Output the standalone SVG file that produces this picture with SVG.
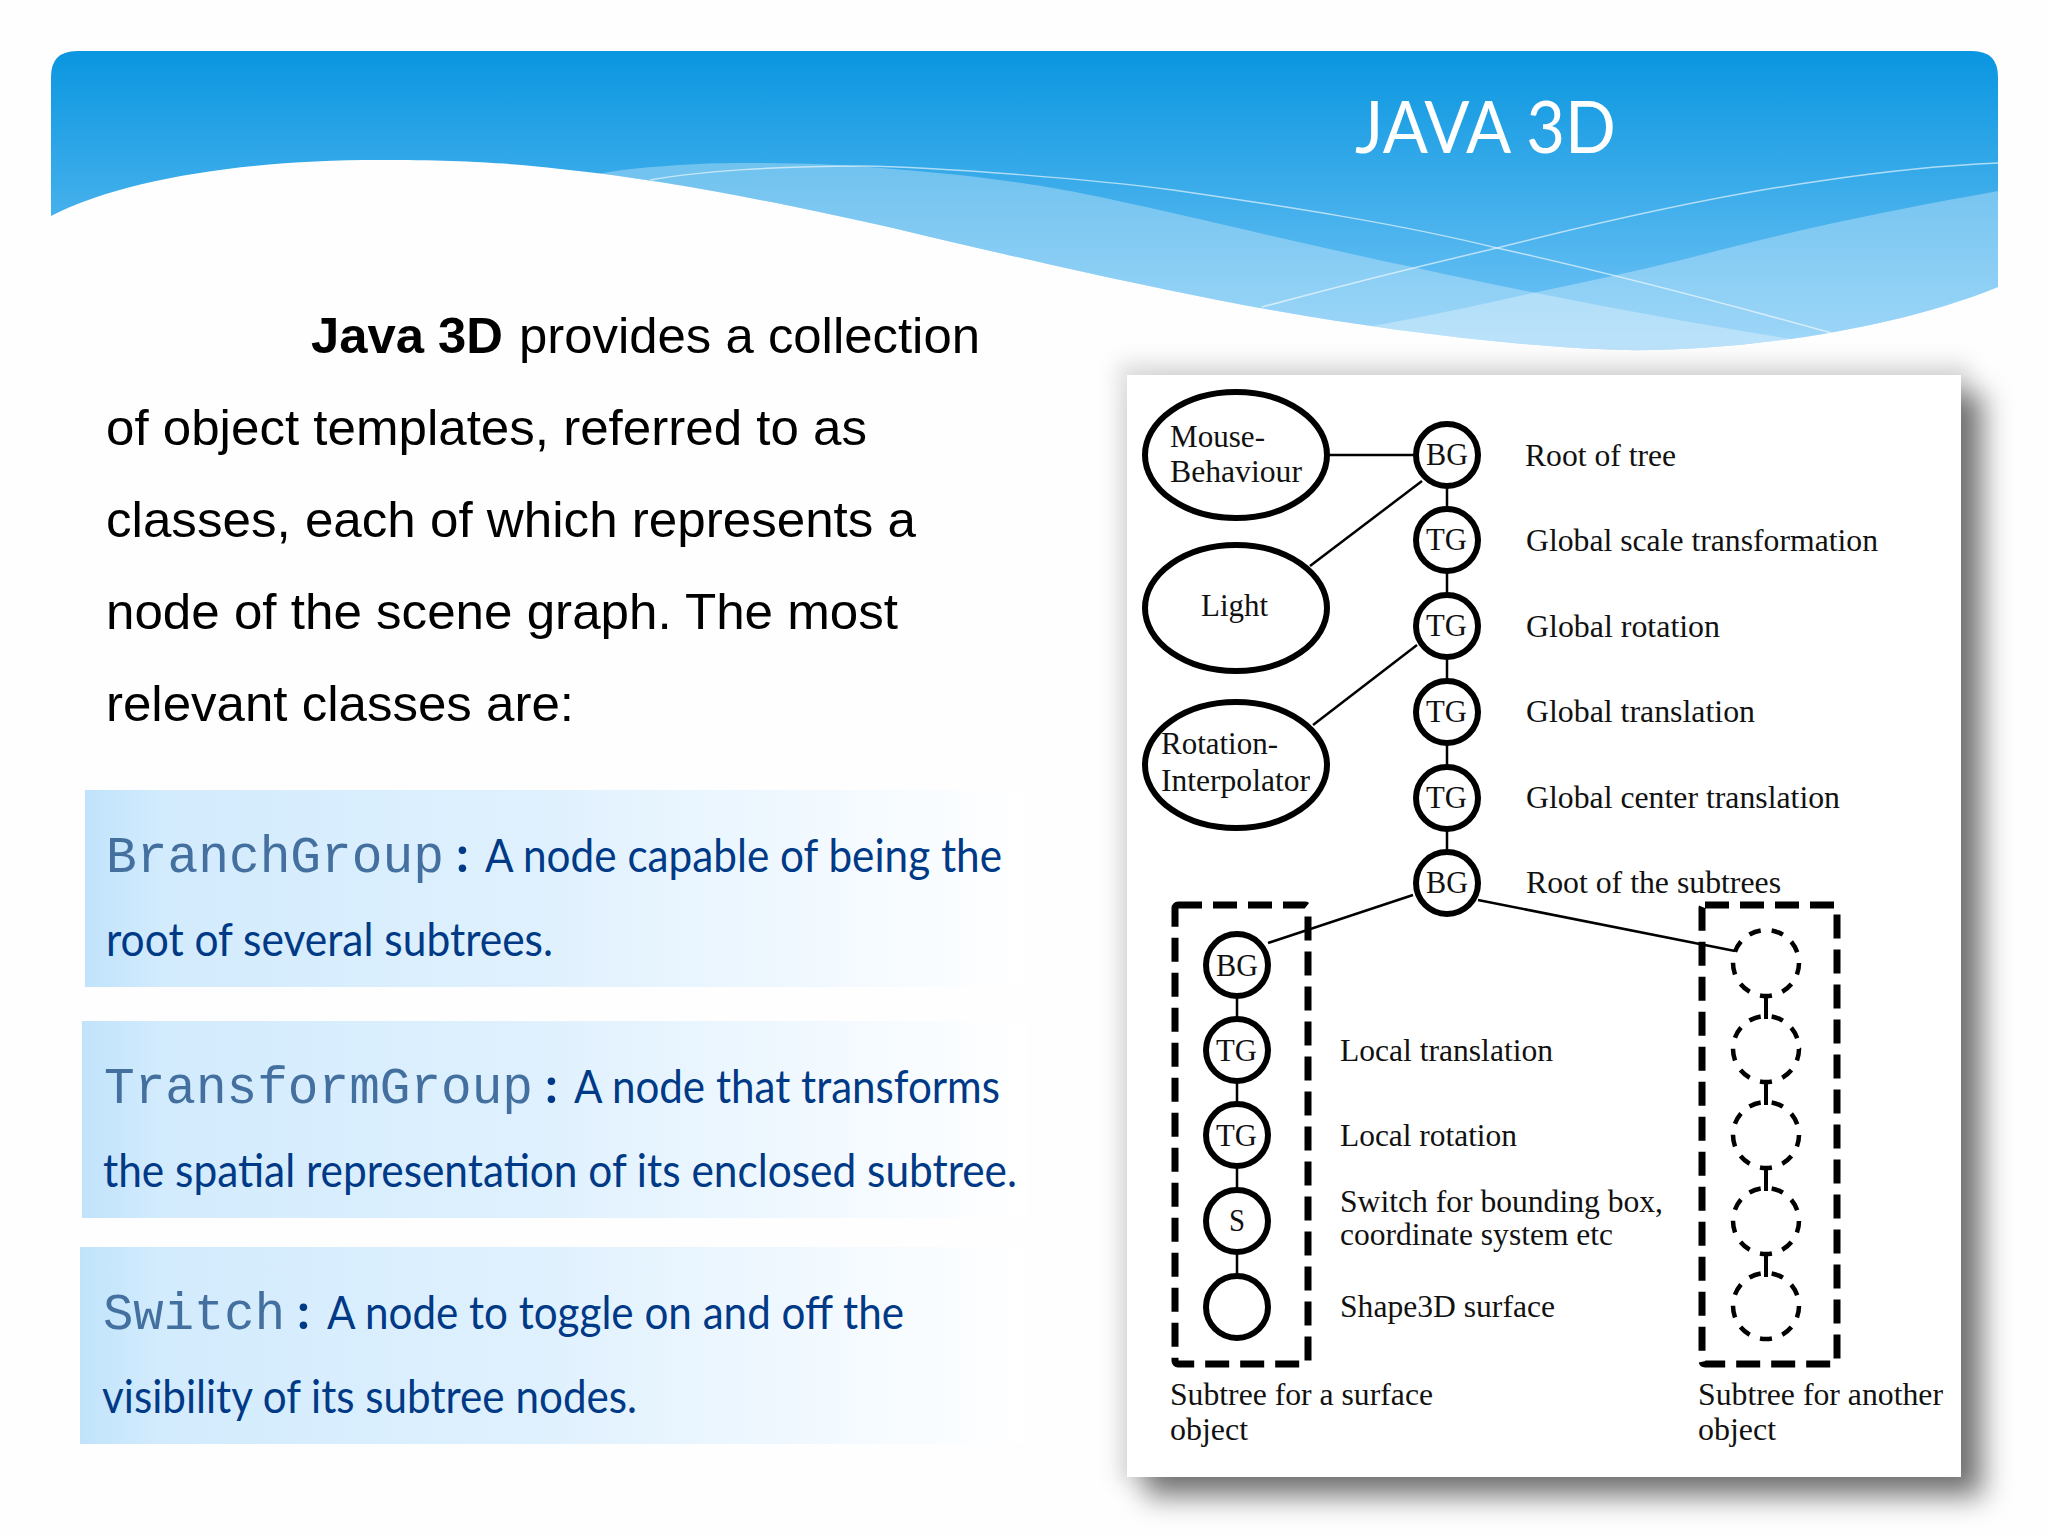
<svg xmlns="http://www.w3.org/2000/svg" width="2048" height="1536" viewBox="0 0 2048 1536">
<style>
.s{font-family:"Liberation Serif",serif;font-size:32px;fill:#111}
.b{font-family:"Liberation Sans",Arial,sans-serif;font-size:50px;fill:#000}
.l{font-family:Lato,"Open Sans",sans-serif;font-size:46px;fill:#003a86}
.m{font-family:"Liberation Mono",monospace;font-size:51px;fill:#44709f}
.k{font-family:Lato,"Open Sans",sans-serif;font-size:50px;font-weight:700;fill:#003a86}
.n{fill:#fff;stroke:#000;stroke-width:6}
.d{fill:none;stroke:#000;stroke-width:4.5;stroke-dasharray:12 11.03;stroke-dashoffset:-22.77}
.c{fill:none;stroke:#000;stroke-width:2.5}
.x{fill:none;stroke:#000;stroke-width:7;stroke-dasharray:24 11}
.w{fill:none;stroke:#fff;stroke-opacity:.6;stroke-width:1.5}
</style>
<defs>
<linearGradient id="bg" x1="0" y1="51" x2="0" y2="350" gradientUnits="userSpaceOnUse"><stop offset="0" stop-color="#0a96e0"/><stop offset="1" stop-color="#76c6f6"/></linearGradient>
<linearGradient id="f" x1="0" x2="1" y1="0" y2="0"><stop offset="0" stop-color="#c0e3fb"/><stop offset=".08" stop-color="#d2ebfd"/><stop offset=".5" stop-color="#e0f1fe"/><stop offset=".85" stop-color="#f6fbff"/><stop offset="1" stop-color="#fff"/></linearGradient>
<clipPath id="bc"><path d="M51 216C125 178 250 160 379 160C460 160 510 163 560 169C670 180 790 205 893 228C1010 256 1150 288 1260 308C1380 330 1520 347 1620 350C1720 352 1880 335 1998 287V77Q1998 51 1972 51H77Q51 51 51 77Z"/></clipPath>
<filter id="sh" x="-10%" y="-10%" width="120%" height="120%"><feGaussianBlur stdDeviation="14"/></filter>
<filter id="sh2" x="-10%" y="-10%" width="120%" height="120%"><feGaussianBlur stdDeviation="10"/></filter>
</defs>
<rect width="2048" height="1536" fill="#fefefe"/>
<g id="banner">
<path d="M51 216C125 178 250 160 379 160C460 160 510 163 560 169C670 180 790 205 893 228C1010 256 1150 288 1260 308C1380 330 1520 347 1620 350C1720 352 1880 335 1998 287V77Q1998 51 1972 51H77Q51 51 51 77Z" fill="url(#bg)"/>
<g clip-path="url(#bc)">
<path d="M590 175C640 166 700 163 743 163C800 163 850 165 893 169C960 174 1030 183 1080 193C1180 213 1300 244 1417 268C1530 293 1680 322 1810 342L1810 400H590Z" fill="#fff" fill-opacity="0.3"/>
<path d="M1360 328C1420 318 1480 305 1537 292C1600 279 1660 266 1720 250C1820 224 1920 205 1998 191V400H1360Z" fill="#fff" fill-opacity="0.3"/>
<path class="w" d="M650 180C700 171 780 166 860 166C940 167 1100 180 1173 190C1290 207 1400 224 1497 248C1610 273 1720 302 1835 334"/>
<path class="w" d="M1262 307C1340 286 1420 266 1497 248C1600 222 1720 195 1820 181C1880 172 1950 165 1998 163"/>
</g>
<text x="1355" y="153" font-family="Lato,'Open Sans',sans-serif" font-size="71" fill="#fff" textLength="261" lengthAdjust="spacingAndGlyphs">JAVA 3D</text>
</g>
<g id="body">
<text class="b" x="311" y="353" font-weight="700" textLength="192" lengthAdjust="spacingAndGlyphs">Java 3D</text>
<text class="b" x="519" y="353" textLength="461" lengthAdjust="spacingAndGlyphs">provides a collection</text>
<text class="b" x="106" y="445" textLength="761" lengthAdjust="spacingAndGlyphs">of object templates, referred to as</text>
<text class="b" x="106" y="537" textLength="810" lengthAdjust="spacingAndGlyphs">classes, each of which represents a</text>
<text class="b" x="106" y="629" textLength="792" lengthAdjust="spacingAndGlyphs">node of the scene graph. The most</text>
<text class="b" x="106" y="721" textLength="468" lengthAdjust="spacingAndGlyphs">relevant classes are:</text>
</g>
<g id="branchgroup">
<rect x="85" y="790" width="940" height="197" fill="url(#f)"/>
<text class="m" x="106" y="872" textLength="338" lengthAdjust="spacingAndGlyphs">BranchGroup</text>
<text class="k" x="456" y="872">:</text>
<text class="l" x="485" y="872" textLength="517" lengthAdjust="spacingAndGlyphs">A node capable of being the</text>
<text class="l" x="106" y="956" textLength="447" lengthAdjust="spacingAndGlyphs">root of several subtrees.</text>
</g>
<g id="transformgroup">
<rect x="82" y="1021" width="945" height="197" fill="url(#f)"/>
<text class="m" x="104" y="1103" textLength="429" lengthAdjust="spacingAndGlyphs">TransformGroup</text>
<text class="k" x="545" y="1103">:</text>
<text class="l" x="574" y="1103" textLength="426" lengthAdjust="spacingAndGlyphs">A node that transforms</text>
<text class="l" x="103" y="1187" textLength="914" lengthAdjust="spacingAndGlyphs">the spatial representation of its enclosed subtree.</text>
</g>
<g id="switch">
<rect x="80" y="1247" width="945" height="197" fill="url(#f)"/>
<text class="m" x="103" y="1329" textLength="182" lengthAdjust="spacingAndGlyphs">Switch</text>
<text class="k" x="297" y="1329">:</text>
<text class="l" x="327" y="1329" textLength="577" lengthAdjust="spacingAndGlyphs">A node to toggle on and off the</text>
<text class="l" x="102" y="1413" textLength="535" lengthAdjust="spacingAndGlyphs">visibility of its subtree nodes.</text>
</g>
<g id="panel">
<rect x="1118" y="362" width="852" height="1120" fill="#000" fill-opacity=".12" filter="url(#sh2)"/>
<rect x="1145" y="393" width="838" height="1104" fill="#000" fill-opacity=".5" filter="url(#sh)"/>
<rect x="1127" y="375" width="834" height="1102" fill="#fff"/>
</g>
<g id="connectors">
<path class="c" d="M1328 455H1414"/>
<path class="c" d="M1310 566L1422 481"/>
<path class="c" d="M1313 725L1417 645"/>
<path class="c" d="M1447 486V510M1447 572V596M1447 657V682M1447 743V768M1447 829V852"/>
<path class="c" d="M1413 895L1268 943"/>
<path class="c" d="M1478 900L1735 951"/>
<path class="c" d="M1237 997V1019M1237 1082V1105M1237 1167V1191M1237 1253V1276"/>
<path class="c" style="stroke-width:4" d="M1766 994V1019M1766 1080V1105M1766 1166V1191M1766 1252V1277"/>
</g>
<rect id="subtree-left" class="x" x="1175" y="905" width="133" height="459" rx="3"/>
<rect id="subtree-right" class="x" x="1702" y="905" width="135" height="459" rx="3"/>
<g id="mouse-behaviour"><ellipse class="n" cx="1236" cy="455" rx="91" ry="63"/><text class="s" x="1170" y="447" textLength="95" lengthAdjust="spacingAndGlyphs">Mouse-</text><text class="s" x="1170" y="482" textLength="132" lengthAdjust="spacingAndGlyphs">Behaviour</text></g>
<g id="light"><ellipse class="n" cx="1236" cy="608" rx="91" ry="63"/><text class="s" x="1201" y="616" textLength="67" lengthAdjust="spacingAndGlyphs">Light</text></g>
<g id="rotation-interpolator"><ellipse class="n" cx="1236" cy="765" rx="91" ry="63"/><text class="s" x="1161" y="754" textLength="117" lengthAdjust="spacingAndGlyphs">Rotation-</text><text class="s" x="1161" y="791" textLength="149" lengthAdjust="spacingAndGlyphs">Interpolator</text></g>
<g id="bg1"><circle class="n" cx="1447" cy="455" r="31"/><text class="s" x="1426" y="465" textLength="42" lengthAdjust="spacingAndGlyphs">BG</text><text class="s" x="1525" y="466" textLength="151" lengthAdjust="spacingAndGlyphs">Root of tree</text></g>
<g id="tg1"><circle class="n" cx="1447" cy="540" r="31"/><text class="s" x="1426" y="550" textLength="41" lengthAdjust="spacingAndGlyphs">TG</text><text class="s" x="1526" y="551" textLength="352" lengthAdjust="spacingAndGlyphs">Global scale transformation</text></g>
<g id="tg2"><circle class="n" cx="1447" cy="626" r="31"/><text class="s" x="1426" y="636" textLength="41" lengthAdjust="spacingAndGlyphs">TG</text><text class="s" x="1526" y="637" textLength="194" lengthAdjust="spacingAndGlyphs">Global rotation</text></g>
<g id="tg3"><circle class="n" cx="1447" cy="712" r="31"/><text class="s" x="1426" y="722" textLength="41" lengthAdjust="spacingAndGlyphs">TG</text><text class="s" x="1526" y="722" textLength="229" lengthAdjust="spacingAndGlyphs">Global translation</text></g>
<g id="tg4"><circle class="n" cx="1447" cy="798" r="31"/><text class="s" x="1426" y="808" textLength="41" lengthAdjust="spacingAndGlyphs">TG</text><text class="s" x="1526" y="808" textLength="314" lengthAdjust="spacingAndGlyphs">Global center translation</text></g>
<g id="bg2"><circle class="n" cx="1447" cy="883" r="31"/><text class="s" x="1426" y="893" textLength="42" lengthAdjust="spacingAndGlyphs">BG</text><text class="s" x="1526" y="893" textLength="255" lengthAdjust="spacingAndGlyphs">Root of the subtrees</text></g>
<g id="left-bg"><circle class="n" cx="1237" cy="965" r="31"/><text class="s" x="1216" y="976" textLength="42" lengthAdjust="spacingAndGlyphs">BG</text></g>
<g id="left-tg1"><circle class="n" cx="1237" cy="1050" r="31"/><text class="s" x="1216" y="1061" textLength="41" lengthAdjust="spacingAndGlyphs">TG</text><text class="s" x="1340" y="1061" textLength="213" lengthAdjust="spacingAndGlyphs">Local translation</text></g>
<g id="left-tg2"><circle class="n" cx="1237" cy="1135" r="31"/><text class="s" x="1216" y="1146" textLength="41" lengthAdjust="spacingAndGlyphs">TG</text><text class="s" x="1340" y="1146" textLength="177" lengthAdjust="spacingAndGlyphs">Local rotation</text></g>
<g id="left-s"><circle class="n" cx="1237" cy="1221" r="31"/><text class="s" x="1229" y="1231" textLength="16" lengthAdjust="spacingAndGlyphs">S</text><text class="s" x="1340" y="1212" textLength="323" lengthAdjust="spacingAndGlyphs">Switch for bounding box,</text><text class="s" x="1340" y="1245" textLength="273" lengthAdjust="spacingAndGlyphs">coordinate system etc</text></g>
<g id="left-shape"><circle class="n" cx="1237" cy="1307" r="31"/><text class="s" x="1340" y="1317" textLength="215" lengthAdjust="spacingAndGlyphs">Shape3D surface</text></g>
<g id="right-1"><circle class="d" cx="1766" cy="963" r="33"/></g>
<g id="right-2"><circle class="d" cx="1766" cy="1049" r="33"/></g>
<g id="right-3"><circle class="d" cx="1766" cy="1135" r="33"/></g>
<g id="right-4"><circle class="d" cx="1766" cy="1221" r="33"/></g>
<g id="right-5"><circle class="d" cx="1766" cy="1306" r="33"/></g>
<g id="captions">
<text class="s" x="1170" y="1405" textLength="263" lengthAdjust="spacingAndGlyphs">Subtree for a surface</text>
<text class="s" x="1170" y="1440" textLength="78" lengthAdjust="spacingAndGlyphs">object</text>
<text class="s" x="1698" y="1405" textLength="245" lengthAdjust="spacingAndGlyphs">Subtree for another</text>
<text class="s" x="1698" y="1440" textLength="78" lengthAdjust="spacingAndGlyphs">object</text>
</g>
</svg>
